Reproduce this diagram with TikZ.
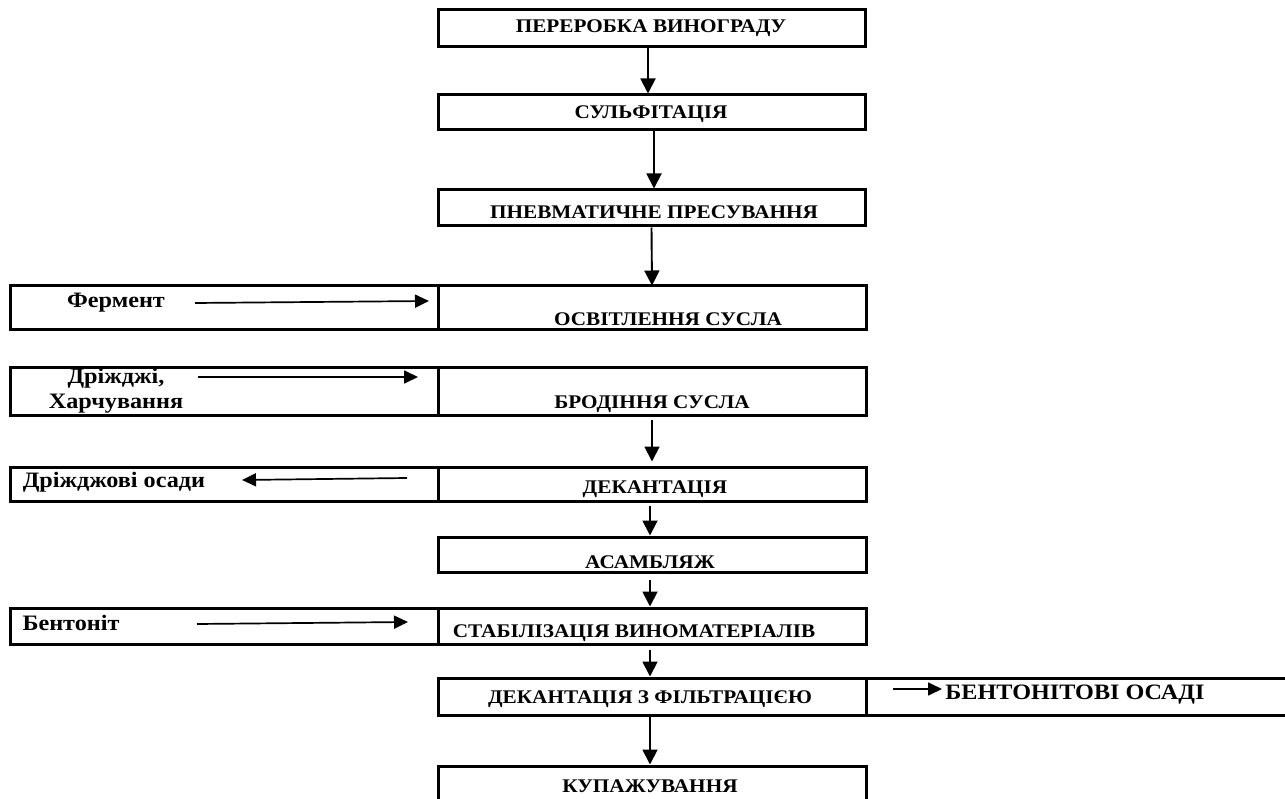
\documentclass[tikz,border=0pt]{standalone}
\usepackage{fontspec}
\setmainfont{Liberation Serif}[FakeStretch=1.1]
\usetikzlibrary{arrows.meta}
\tikzset{
  box/.style={draw, line width=3pt, inner sep=0pt},
  lbl/.style={font=\fontsize{19.3}{22}\selectfont\bfseries, inner sep=0pt},
  biglbl/.style={font=\fontsize{22}{25}\selectfont\bfseries, inner sep=0pt},
  side/.style={font=\fontsize{22}{25}\selectfont\bfseries, inner sep=0pt, align=center},
  arr/.style={line width=1.9pt, -{Triangle[width=15pt,length=15pt]}},
  harr/.style={line width=1.7pt, -{Triangle[width=13pt,length=14pt]}},
}
\begin{document}
\begin{tikzpicture}[x=1pt,y=-1pt]
\useasboundingbox (0,0) rectangle (1285,799);
% main boxes
\node[box, minimum width=427pt, minimum height=37pt] (b1) at (651.5,28.5) {};
\node[box, minimum width=427pt, minimum height=35pt] (b2) at (651.5,112.5) {};
\node[box, minimum width=427pt, minimum height=36pt] (b3) at (651.5,208) {};
\node[box, minimum width=428pt, minimum height=44pt] (b4) at (652,308) {};
\node[box, minimum width=428pt, minimum height=44pt] (l4) at (224,308) {};
\node[box, minimum width=428pt, minimum height=47pt] (b5) at (652,391.5) {};
\node[box, minimum width=428pt, minimum height=47pt] (l5) at (224,391.5) {};
\node[box, minimum width=428pt, minimum height=34pt] (b6) at (652,484) {};
\node[box, minimum width=428pt, minimum height=34pt] (l6) at (224,484) {};
\node[box, minimum width=428pt, minimum height=35pt] (b7) at (652,554.5) {};
\node[box, minimum width=428pt, minimum height=36pt] (b8) at (652,626) {};
\node[box, minimum width=428pt, minimum height=36pt] (l8) at (224,626) {};
\node[box, minimum width=428pt, minimum height=37pt] (b9) at (652,696.5) {};
\node[box, minimum width=430pt, minimum height=37pt] (r9) at (1081,696.5) {};
\node[box, minimum width=428pt, minimum height=44pt] (b10) at (652,788) {};
% texts
\node[lbl] (t1) at (651,28) {ПЕРЕРОБКА ВИНОГРАДУ};
\node[lbl] (t2) at (651,114) {СУЛЬФІТАЦІЯ};
\node[lbl] (t3) at (654,212) {ПНЕВМАТИЧНЕ ПРЕСУВАННЯ};
\node[lbl] (t4) at (668,319) {ОСВІТЛЕННЯ СУСЛА};
\node[lbl] (t5) at (652,404) {БРОДІННЯ СУСЛА};
\node[lbl] (t6) at (655,489) {ДЕКАНТАЦІЯ};
\node[lbl] (t7) at (650,562) {АСАМБЛЯЖ};
\node[lbl] (t8) at (634,633) {СТАБІЛІЗАЦІЯ ВИНОМАТЕРІАЛІВ};
\node[lbl] (t9) at (650,699) {ДЕКАНТАЦІЯ З ФІЛЬТРАЦІЄЮ};
\node[lbl] (t10) at (650,786) {КУПАЖУВАННЯ};
\node[biglbl] (bo) at (1075,695) {БЕНТОНІТОВІ ОСАДІ};
\node[side] (ferm) at (116,303) {Фермент};
\node[side] (drz) at (116,391) {Дріжджі,\\Харчування};
\node[side] (osad) at (114,482) {Дріжджові осади};
\node[side] (bent) at (71,623) {Бентоніт};
% side arrow ends
\coordinate (f1) at (195,303); \coordinate (f2) at (429,301);
\coordinate (d1) at (198,377); \coordinate (d2) at (418,377);
\coordinate (o1) at (407,478); \coordinate (o2) at (242,480);
\coordinate (e1) at (197,624); \coordinate (e2) at (408,622);
\coordinate (g1) at (893,689); \coordinate (g2) at (942,689);
% vertical arrows
\draw[arr] ([xshift=-3.5pt]b1.south) -- ([xshift=-3.5pt]b2.north);
\draw[arr] ([xshift=2.5pt]b2.south) -- ([xshift=2.5pt]b3.north);
\draw[arr] (b3.south) -- ([yshift=-1pt]b4.north);
\draw[arr] ([yshift=-3pt]b5.south) -- ([yshift=4pt]b6.north);
\draw[arr] ([xshift=-2pt,yshift=-3pt]b6.south) -- ([xshift=-2pt]b7.north);
\draw[arr] ([xshift=-2pt,yshift=-6pt]b7.south) -- ([xshift=-2pt]b8.north);
\draw[arr] ([xshift=-2pt,yshift=-4pt]b8.south) -- ([xshift=-2pt]b9.north);
\draw[arr] ([xshift=-2pt]b9.south) -- ([xshift=-2pt]b10.north);
% horizontal arrows
\draw[harr] (f1) -- (f2);
\draw[harr] (d1) -- (d2);
\draw[harr] (o1) -- (o2);
\draw[harr] (e1) -- (e2);
\draw[harr] (g1) -- (g2);
\end{tikzpicture}
\end{document}
